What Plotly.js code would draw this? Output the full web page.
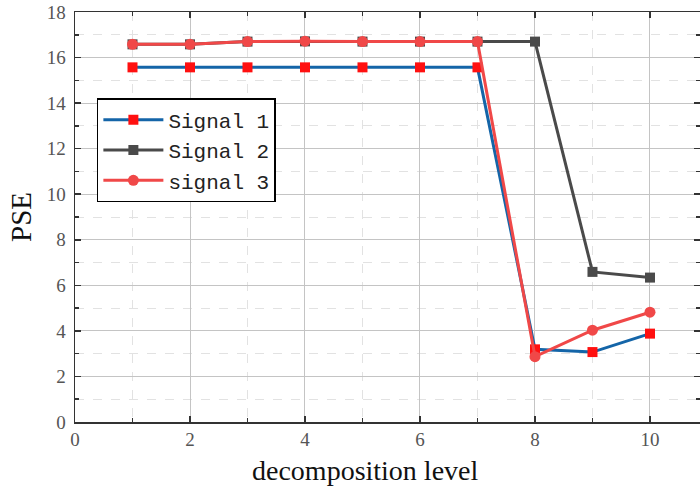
<!DOCTYPE html>
<html>
<head>
<meta charset="utf-8">
<script src="https://cdn.plot.ly/plotly-3.0.1.min.js"></script>
<style>html,body{margin:0;padding:0;background:#fff;}#chart{width:700px;height:490px;}</style>
</head>
<body>
<div id="chart"></div>
<script>
const levels = [1, 2, 3, 4, 5, 6, 7, 8, 9, 10];
const signal1 = [15.57, 15.57, 15.57, 15.57, 15.57, 15.57, 15.57, 3.19, 3.07, 3.88];
const signal2 = [16.58, 16.58, 16.70, 16.71, 16.70, 16.70, 16.70, 16.70, 6.59, 6.34];
const signal3 = [16.58, 16.58, 16.70, 16.72, 16.70, 16.70, 16.70, 2.87, 4.03, 4.82];
const names = ['Signal 1', 'Signal 2', 'signal 3'];

const traces = [
  {x: levels, y: signal1, name: names[0], mode: 'lines+markers',
   line: {color: '#1465a8', width: 3},
   marker: {symbol: 'square', size: 10, color: '#ff1010'}},
  {x: levels, y: signal2, name: names[1], mode: 'lines+markers',
   line: {color: '#4a4a4a', width: 3},
   marker: {symbol: 'square', size: 10, color: '#4a4a4a'}},
  {x: levels, y: signal3, name: names[2], mode: 'lines+markers',
   line: {color: '#f04848', width: 3},
   marker: {symbol: 'circle', size: 11, color: '#f04848'}}
];

const serif = 'Liberation Serif';

function axisBase() {
  return {
    tickmode: 'linear', dtick: 2, tick0: 0,
    showline: true, linecolor: '#333', linewidth: 1.5, mirror: 'ticks',
    ticks: 'inside', ticklen: 6, tickcolor: '#333', tickwidth: 1.5,
    showgrid: true, gridcolor: '#c4c4c4', gridwidth: 1, zeroline: false,
    tickfont: {family: serif, size: 19, color: '#555'},
    minor: {dtick: 1, showgrid: true, griddash: 'dash', gridcolor: '#e2e2e2',
            ticks: 'inside', ticklen: 4, tickcolor: '#333'}
  };
}

const layout = {
  width: 700, height: 490,
  margin: {l: 75, r: 0, t: 12, b: 68},
  paper_bgcolor: '#fff', plot_bgcolor: '#fff',
  font: {family: serif, size: 19, color: '#555'},
  showlegend: true,
  legend: {x: 0.035, y: 0.79, xanchor: 'left', yanchor: 'top',
           bgcolor: '#fff', bordercolor: '#000', borderwidth: 1.5,
           itemwidth: 60,
           font: {family: 'Liberation Mono', size: 21, color: '#222'},
           tracegroupgap: 0},
  xaxis: Object.assign(axisBase(), {range: [0, 10.87]}),
  yaxis: Object.assign(axisBase(), {range: [0, 18], ticklabelstandoff: 4,
    title: {text: 'PSE', standoff: 6,
            font: {family: serif, size: 29, color: '#111'}}}),
  annotations: [{
    text: 'decomposition level', xref: 'paper', yref: 'paper',
    x: (365 - 75) / 625, y: -0.075, xanchor: 'center', yanchor: 'top',
    showarrow: false,
    font: {family: serif, size: 28, color: '#111'}
  }]
};

Plotly.newPlot('chart', traces, layout, {displayModeBar: false, staticPlot: true});
</script>
</body>
</html>
